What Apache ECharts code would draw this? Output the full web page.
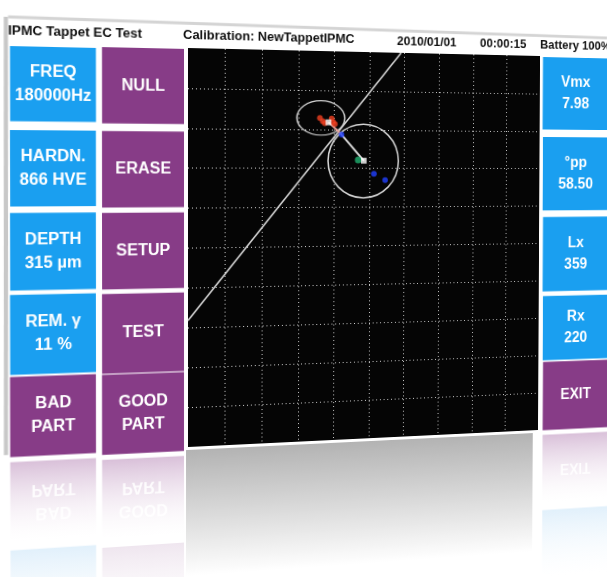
<!DOCTYPE html>
<html><head><meta charset="utf-8">
<script src="https://cdn.jsdelivr.net/npm/echarts@6/dist/echarts.min.js"></script>
<style>html,body{margin:0;padding:0;background:#fff;overflow:hidden;width:607px;height:577px;}#c{width:700px;height:660px;position:absolute;left:0;top:0;}</style>
</head><body><div id="c"></div>
<script>
// ---- data ----
var headerTexts = ['IPMC Tappet EC Test', 'Calibration: NewTappetIPMC', '2010/01/01', '00:00:15', 'Battery 100%'];
var leftBlueLabels = ['FREQ\n180000Hz', 'HARDN.\n866 HVE', 'DEPTH\n315 µm', 'REM. γ\n11 %', 'BAD\nPART'];
var leftPurpleLabels = ['NULL', 'ERASE', 'SETUP', 'TEST', 'GOOD\nPART'];
var rightLabels = ['Vmx\n7.98', '°pp\n58.50', 'Lx\n359', 'Rx\n220', 'EXIT'];
var referenceLine = [[-5, -1.82], [0.90, 5]];
var redPoints = [[-1.40, 3.29], [-1.32, 3.21], [-1.26, 3.16], [-1.07, 3.28], [-1.03, 3.19], [-0.98, 3.14]];
var bluePoints = [[-0.79, 2.87], [0.13, 1.86], [0.45, 1.70]];
var greenPoints = [[-0.32, 2.22]];
var centers = [[-1.16, 3.18], [-0.16, 2.20]];
var crossing = [-0.82, 2.90];
var circles = [[-1.37, 3.29, 0.67, 0.44], [-0.17, 2.19, 1.0, 0.95]];

var BLUE = '#1a9ff0', PURPLE = '#873c87';
var FONT = '"Liberation Sans", Arial, sans-serif';

// ---- perspective of the photographed screen (flat design -> picture) ----
function solve(A, b) {
  var n = b.length, M = A.map(function (r, i) { return r.concat([b[i]]); });
  for (var i = 0; i < n; i++) {
    var p = i;
    for (var k = i + 1; k < n; k++) if (Math.abs(M[k][i]) > Math.abs(M[p][i])) p = k;
    var t = M[i]; M[i] = M[p]; M[p] = t;
    for (var k2 = 0; k2 < n; k2++) {
      if (k2 === i) continue;
      var f = M[k2][i] / M[i][i];
      for (var j = i; j <= n; j++) M[k2][j] -= f * M[i][j];
    }
  }
  return M.map(function (r, i) { return r[n] / r[i]; });
}
var flatPts = [[188, 48], [564, 48], [188, 447], [564, 447]];
var picPts = [[188, 48], [540, 56], [188, 447], [538, 430]];
var A = [], B = [];
flatPts.forEach(function (p, i) {
  var x = p[0], y = p[1], X = picPts[i][0], Y = picPts[i][1];
  A.push([x, y, 1, 0, 0, 0, -x * X, -y * X]); B.push(X);
  A.push([0, 0, 0, x, y, 1, -x * Y, -y * Y]); B.push(Y);
});
var H = solve(A, B); // a b c d e f g h
var el = document.getElementById('c');
el.style.transformOrigin = '0 0';
el.style.transform = 'matrix3d(' + [H[0], H[3], 0, H[6], H[1], H[4], 0, H[7], 0, 0, 1, 0, H[2], H[5], 0, 1].join(',') + ')';
// inverse mapping picture -> flat
function toFlat(P) {
  var a = H[0], b = H[1], c = H[2], d = H[3], e = H[4], f = H[5], g = H[6], h = H[7];
  var X = P[0], Y = P[1];
  return solve([[a - g * X, b - h * X], [d - g * Y, e - h * Y]], [X - c, Y - f]);
}
function flatRect(x0, y0, x1, y1) {
  var p = toFlat([x0, y0]), q = toFlat([x1, y1]);
  return {x: p[0], y: p[1], width: q[0] - p[0], height: q[1] - p[1]};
}

var chart = echarts.init(el);
var g = [];
// frame edges
var f1 = toFlat([8, 17]), f2 = toFlat([607, 38]), f3 = toFlat([6, 455]);
g.push({type: 'line', shape: {x1: f1[0], y1: f1[1], x2: f2[0], y2: f2[1]}, style: {stroke: '#d4d4d4', lineWidth: 3}});
g.push({type: 'line', shape: {x1: f1[0] - 2, y1: f1[1], x2: f3[0], y2: f3[1]}, style: {stroke: '#c8c8c8', lineWidth: 4}});
// header texts
var headerPos = [[8, 31], [183, 35], [397, 42], [480, 44], [540, 45]];
headerTexts.forEach(function (t, i) {
  var p = toFlat(headerPos[i]);
  g.push({type: 'text', x: p[0], y: p[1], style: {text: t, fill: '#111', font: 'bold 13px ' + FONT, textVerticalAlign: 'middle'}});
});
function button(r, color, label, fs) {
  g.push({type: 'rect', shape: r, style: {fill: color}});
  g.push({type: 'text', x: r.x + r.width / 2, y: r.y + r.height / 2, style: {text: label, fill: '#fff', font: 'bold ' + fs + 'px ' + FONT, textAlign: 'center', textVerticalAlign: 'middle', lineHeight: 23}});
}
function reflect(r, color, label, gap, fs) {
  var y0 = r.y + r.height + gap;
  g.push({type: 'rect', shape: {x: r.x, y: y0, width: r.width, height: r.height},
    style: {fill: new echarts.graphic.LinearGradient(0, 0, 0, 1, [{offset: 0, color: color}, {offset: 1, color: 'rgba(255,255,255,0.2)'}])}, z: -1});
  if (label) g.push({type: 'text', x: r.x + r.width / 2, y: y0 + r.height / 2, scaleY: -1,
    style: {text: label, fill: 'rgba(255,255,255,0.85)', font: 'bold ' + fs + 'px ' + FONT, textAlign: 'center', textVerticalAlign: 'middle', lineHeight: 23}, z: -1});
}
var leftRows = [[46, 122], [130, 206], [213, 289], [295, 372], [377, 453]];
var col2Rows = [[47, 124], [131, 207], [213, 288], [294, 371], [375, 451]];
var lastL = null, lastP = null;
leftRows.forEach(function (r, i) {
  var rb = flatRect(10, r[0], 96, r[1]);
  var rp = flatRect(102, col2Rows[i][0], 184, col2Rows[i][1]);
  button(rb, i < 4 ? BLUE : PURPLE, leftBlueLabels[i], 16);
  button(rp, PURPLE, leftPurpleLabels[i], 16);
  if (i === 4) { lastL = rb; lastP = rp; }
});
var rightRows = [[57, 130], [137, 210], [217, 290], [296, 358], [362, 427]];
var lastR = null;
rightRows.forEach(function (r, i) {
  var rr = flatRect(543, r[0], 608, r[1]);
  button(rr, i < 4 ? BLUE : PURPLE, rightLabels[i], 16);
  if (i === 4) lastR = rr;
});
// reflections under the screen
reflect(lastL, '#d9c0d9', leftBlueLabels[4], 5, 16);
reflect(lastP, '#d9c0d9', leftPurpleLabels[4], 5, 16);
reflect(lastR, '#d9c0d9', rightLabels[4], 5, 16);
reflect({x: lastL.x, y: lastL.y + lastL.height + 5, width: lastL.width, height: lastL.height}, '#e1f0fb', '', 8, 16);
reflect({x: lastP.x, y: lastP.y + lastP.height + 5, width: lastP.width, height: lastP.height}, '#efe6ef', '', 8, 16);
reflect({x: lastR.x, y: lastR.y + lastR.height + 5, width: lastR.width, height: lastR.height}, '#e1f0fb', '', 8, 16);
g.push({type: 'rect', shape: {x: 186, y: 450, width: 372, height: 150},
  style: {fill: new echarts.graphic.LinearGradient(0, 0, 0, 1, [{offset: 0, color: '#b3b3b3'}, {offset: 0.85, color: '#ffffff'}])}, z: -2});

var axisCommon = {
  type: 'value', min: -5, max: 5, interval: 1,
  axisLine: {show: false}, axisTick: {show: false}, axisLabel: {show: false},
  splitLine: {show: true, showMinLine: false, showMaxLine: false, lineStyle: {color: '#d6d6d6', width: 1, type: [1, 3]}}
};

chart.setOption({
  animation: false,
  backgroundColor: '#ffffff',
  graphic: g,
  grid: {left: 188, top: 48, width: 376, height: 399, show: true, backgroundColor: '#050505', borderWidth: 0},
  xAxis: axisCommon,
  yAxis: axisCommon,
  series: [
    {type: 'line', data: referenceLine, symbol: 'none', lineStyle: {color: '#d8d8d8', width: 1.6}, z: 2},
    {type: 'custom', data: circles, z: 3,
      renderItem: function (params, api) {
        var c = api.coord([api.value(0), api.value(1)]);
        var s = api.size([api.value(2), api.value(3)]);
        return {type: 'circle', x: c[0], y: c[1], scaleY: s[1] / s[0], shape: {cx: 0, cy: 0, r: s[0]}, style: {fill: 'none', stroke: '#d4d4d4', lineWidth: 1.6}};
      }},
    {type: 'line', data: [centers[0], crossing], symbol: 'none', lineStyle: {color: '#e8a39a', width: 2}, z: 4},
    {type: 'line', data: [crossing, centers[1]], symbol: 'none', lineStyle: {color: '#d8d8d8', width: 2}, z: 4},
    {type: 'scatter', data: redPoints, symbolSize: 6, itemStyle: {color: '#f04020'}, z: 5},
    {type: 'scatter', data: bluePoints, symbolSize: 6, itemStyle: {color: '#2040ff'}, z: 5},
    {type: 'scatter', data: greenPoints, symbolSize: 7, itemStyle: {color: '#20b070'}, z: 5},
    {type: 'scatter', data: centers, symbol: 'rect', symbolSize: 6, itemStyle: {color: '#ffffff'}, z: 6}
  ]
});
</script></body></html>
